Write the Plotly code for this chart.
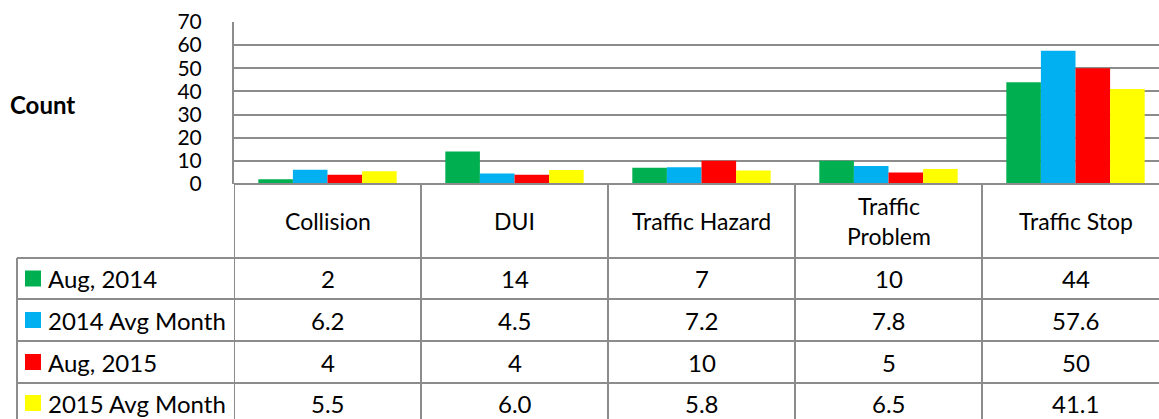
import plotly.graph_objects as go

categories = ["Collision", "DUI", "Traffic Hazard", "Traffic Problem", "Traffic Stop"]
category_labels = ["Collision", "DUI", "Traffic Hazard", "Traffic<br>Problem", "Traffic Stop"]
series_names = ["Aug, 2014", "2014 Avg Month", "Aug, 2015", "2015 Avg Month"]
aug_2014 = [2, 14, 7, 10, 44]
avg_2014 = [6.2, 4.5, 7.2, 7.8, 57.6]
aug_2015 = [4, 4, 10, 5, 50]
avg_2015 = [5.5, 6.0, 5.8, 6.5, 41.1]
series_values = [aug_2014, avg_2014, aug_2015, avg_2015]
series_formats = ["{:g}", "{:.1f}", "{:g}", "{:.1f}"]
colors = ["#00B050", "#00B0F0", "#FF0000", "#FFFF00"]
y_ticks = [0, 10, 20, 30, 40, 50, 60, 70]

W, H = 1159, 419
FONT = "Lato, 'Open Sans', sans-serif"
FS = 24
TICK_FS = 21
GRID = "#8c8c8c"

def X(px):
    return px / W

def Y(py):
    return 1 - py / H

plot_left, plot_top, plot_bottom = 234, 22, 184
col_w = 187
row_edges = [258, 299, 341, 383]
row_centers = [278.5, 320, 362, 403]
legend_left = 17

fig = go.Figure()
for name, vals, col in zip(series_names, series_values, colors):
    fig.add_trace(go.Bar(x=list(range(len(categories))), y=vals, name=name,
                         marker=dict(color=col, line=dict(width=0))))

shapes = []
# vertical table lines at category boundaries
for i in range(len(categories) + 1):
    shapes.append(dict(type="line", xref="x", yref="paper", x0=i - 0.5, x1=i - 0.5,
                       y0=Y(plot_bottom), y1=0, line=dict(color=GRID, width=2)))
# x-axis / header top line
shapes.append(dict(type="line", xref="paper", yref="paper", x0=X(plot_left), x1=1,
                   y0=Y(plot_bottom), y1=Y(plot_bottom), line=dict(color=GRID, width=2)))
# horizontal row lines
for ry in row_edges:
    shapes.append(dict(type="line", xref="paper", yref="paper", x0=X(legend_left), x1=1,
                       y0=Y(ry), y1=Y(ry), line=dict(color=GRID, width=2)))
# legend column left border
shapes.append(dict(type="line", xref="paper", yref="paper", x0=X(legend_left), x1=X(legend_left),
                   y0=Y(row_edges[0]), y1=0, line=dict(color=GRID, width=2)))
# legend keys
for cy, col in zip(row_centers, colors):
    shapes.append(dict(type="rect", xref="paper", yref="paper", x0=X(25), x1=X(41),
                       y0=Y(cy - 8), y1=Y(cy + 8), line=dict(width=0), fillcolor=col))

annotations = []
for i, lab in enumerate(category_labels):
    annotations.append(dict(x=i, y=Y(221), xref="x", yref="paper", text=lab, showarrow=False,
                            font=dict(family=FONT, size=FS - 1, color="#000"), xanchor="center",
                            yanchor="middle"))
for cy, name, vals, fmt in zip(row_centers, series_names, series_values, series_formats):
    annotations.append(dict(x=X(46), y=Y(cy), xref="paper", yref="paper", text=name,
                            showarrow=False, xanchor="left", yanchor="middle",
                            font=dict(family=FONT, size=FS, color="#000")))
    for i, v in enumerate(vals):
        annotations.append(dict(x=i, y=Y(cy), xref="x", yref="paper", text=fmt.format(v),
                                showarrow=False, xanchor="center", yanchor="middle",
                                font=dict(family=FONT, size=FS, color="#000")))
annotations.append(dict(x=X(8), y=Y(104), xref="paper", yref="paper", text="<b>Count</b>",
                        showarrow=False, xanchor="left", yanchor="middle",
                        font=dict(family=FONT, size=FS, color="#000")))

fig.update_layout(
    width=W, height=H,
    margin=dict(l=0, r=0, t=0, b=0, pad=0),
    paper_bgcolor="white", plot_bgcolor="white",
    barmode="group", bargap=0.26, bargroupgap=0,
    showlegend=False,
    shapes=shapes, annotations=annotations,
    xaxis=dict(domain=[X(plot_left), 1], range=[-0.5, -0.5 + (W - plot_left) / col_w],
               showticklabels=False, showgrid=False, zeroline=False, showline=False,
               automargin=False, fixedrange=True),
    yaxis=dict(domain=[Y(plot_bottom), Y(plot_top)], range=[0, 70], tickvals=y_ticks,
               showgrid=True, gridcolor=GRID, gridwidth=2, zeroline=False,
               showline=True, linecolor=GRID, linewidth=2, ticks="",
               ticklabelstandoff=26, automargin=False,
               tickfont=dict(family=FONT, size=TICK_FS, color="#000"), fixedrange=True),
)

fig.write_html("out.html", config={"displayModeBar": False},
               post_script="document.body.style.margin='0';document.body.style.overflow='hidden';")
